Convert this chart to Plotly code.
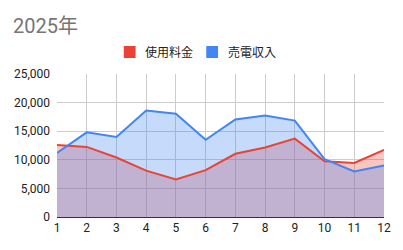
import plotly.graph_objects as go

months = list(range(1, 13))
usage_fee = [12600, 12250, 10400, 8100, 6550, 8200, 11050, 12150, 13700, 9750, 9450, 11750]
sell_income = [11200, 14800, 14000, 18600, 18050, 13500, 17050, 17750, 16850, 10100, 7950, 9000]
series_names = ["使用料金", "売電収入"]
colors = ["#EA4335", "#4285F4"]
fills = ["rgba(234,67,53,0.3)", "rgba(66,133,244,0.3)"]
series_vals = [usage_fee, sell_income]

W, H = 403, 250
ML, MR, MT, MB = 57, 13, 74, 33
PW, PH = W - ML - MR, H - MT - MB

fig = go.Figure()
# fills first
for name, vals, f in zip(series_names, series_vals, fills):
    fig.add_trace(go.Scatter(x=months, y=vals, mode="lines", fill="tozeroy",
                             fillcolor=f, line=dict(width=0),
                             showlegend=False, name=name, hoverinfo="skip"))
# lines on top
for name, vals, c in zip(series_names, series_vals, colors):
    fig.add_trace(go.Scatter(x=months, y=vals, mode="lines",
                             line=dict(color=c, width=2),
                             showlegend=False, name=name))

font_fam = "Roboto, 'Noto Sans CJK JP', sans-serif"

# manual legend (pixel positions converted to paper coords)
def px_x(px):
    return (px - ML) / PW

def px_y(py):
    return (H - MB - py) / PH

shapes = []
annotations = []
legend_items = [(125, series_names[0], colors[0]), (209, series_names[1], colors[1])]
for x0, name, c in legend_items:
    shapes.append(dict(type="rect", xref="paper", yref="paper",
                       x0=px_x(x0), x1=px_x(x0 + 12), y0=px_y(58), y1=px_y(46),
                       fillcolor=c, line=dict(width=0)))
    annotations.append(dict(text=name, xref="paper", yref="paper",
                            x=px_x(x0 + 20), y=px_y(52), xanchor="left", yanchor="middle",
                            showarrow=False, font=dict(size=12, color="#222222", family=font_fam)))

fig.update_layout(
    width=W, height=H,
    margin=dict(l=ML, r=MR, t=MT, b=MB),
    paper_bgcolor="white", plot_bgcolor="white",
    font=dict(family=font_fam, size=12, color="#222222"),
    showlegend=False,
    title=dict(text="2025年", x=13 / W, xref="container", xanchor="left",
               y=1 - 26 / H, yref="container", yanchor="middle",
               font=dict(size=20, color="#757575", family=font_fam)),
    shapes=shapes,
    annotations=annotations,
    xaxis=dict(range=[1, 12], tickmode="array", tickvals=months,
               showgrid=True, gridcolor="#cccccc", gridwidth=1,
               showline=True, linecolor="#333333", linewidth=1,
               zeroline=False, ticks="", tickfont=dict(size=12, color="#222222")),
    yaxis=dict(range=[0, 25000], dtick=5000, tickformat=",d",
               showgrid=True, gridcolor="#cccccc", gridwidth=1,
               zeroline=False, ticks="", ticklabelstandoff=6,
               tickfont=dict(size=12, color="#222222")),
)
fig.write_html("out.html")
